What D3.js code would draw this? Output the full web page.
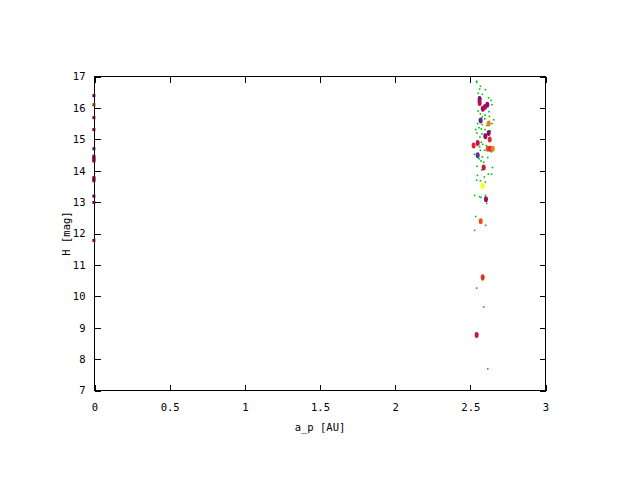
<!DOCTYPE html>
<html>
<head>
<meta charset="utf-8">
<script src="https://cdn.jsdelivr.net/npm/d3@7"></script>
<style>
  html, body { margin: 0; padding: 0; background: #fff; }
  svg { display: block; }
  text { font-family: "DejaVu Sans Mono", "Liberation Mono", monospace; font-size: 10.5px; fill: #000; }
</style>
</head>
<body>
<svg id="chart" width="640" height="480"></svg>
<script>
// ---- data ----
const xTicks = [0, 0.5, 1, 1.5, 2, 2.5, 3];
const yTicks = [7, 8, 9, 10, 11, 12, 13, 14, 15, 16, 17];
const xLabel = "a_p [AU]";
const yLabel = "H [mag]";

// background population (small green dots)
const bgA = [2.542,2.542,2.567,2.562,2.600,2.553,2.580,2.556,2.622,2.638,2.553,2.558,2.644,2.580,2.551,2.624,2.567,2.598,2.627,2.580,2.560,2.596,2.656,2.549,2.580,2.644,2.558,2.609,2.536,2.573,2.598,2.633,2.544,2.576,2.593,2.564,2.629,2.573,2.582,2.562,2.607,2.567,2.596,2.640,2.527,2.580,2.616,2.558,2.571,2.589,2.544,2.647,2.576,2.620,2.642,2.547,2.593,2.542,2.567,2.600,2.529,2.562,2.600,2.571,2.609,2.536,2.602,2.529,2.582,2.542,2.589,2.616];
const bgH = [16.85,16.81,16.69,16.60,16.58,16.47,16.43,16.34,16.32,16.24,16.22,16.13,16.10,15.94,15.90,15.88,15.81,15.77,15.73,15.71,15.62,15.65,15.62,15.50,15.47,15.50,15.37,15.44,15.31,15.33,15.31,15.26,15.20,15.18,15.16,15.07,15.02,14.91,14.84,14.76,14.80,14.65,14.65,14.60,14.52,14.44,14.42,14.38,14.31,14.27,14.14,14.10,14.02,13.89,13.89,13.85,13.80,13.70,13.68,13.64,13.21,13.17,13.21,13.15,12.96,12.54,12.26,12.10,10.52,10.26,9.66,7.69];

// highlighted objects (palette-coloured markers), z = colour value
const objA = [2.562,2.562,2.583,2.597,2.613,2.569,2.622,2.622,2.600,2.629,2.549,2.522,2.616,2.631,2.649,2.549,2.589,2.582,2.604,2.569,2.582,2.542];
const objH = [16.28,16.16,15.97,16.03,16.10,15.60,15.50,15.20,15.10,14.99,14.88,14.80,14.70,14.70,14.70,14.49,14.10,13.51,13.09,12.39,10.61,8.77];
const objZ = [0.20,0.40,0.32,0.38,0.22,0.10,0.80,0.20,0.28,0.60,0.42,0.58,0.70,0.60,0.80,0.05,0.48,1.00,0.30,0.72,0.62,0.45];

// objects at a_p ~ 0 (left edge)
const edgeA = [-0.004,-0.004,-0.004,-0.004,-0.004,-0.004,-0.004,-0.004,-0.004,-0.004,-0.004,-0.004,-0.004,-0.004,-0.004];
const edgeH = [16.39,16.10,15.69,15.31,14.70,14.46,14.41,14.36,14.31,13.78,13.73,13.68,13.19,12.99,11.78];
const edgeZ = [0.30,0.75,0.40,0.40,0.05,0.40,0.38,0.40,0.38,0.40,0.38,0.40,0.25,0.40,0.45];

// ---- chart ----
const svg = d3.select("#chart");
const x = d3.scaleLinear().domain([0, 3]).range([94.5, 545.5]);
const y = d3.scaleLinear().domain([7, 17]).range([390.5, 76.5]);

const color = d3.scaleSequential(
  d3.interpolateRgbBasis(["#5040a0", "#800080", "#c0104a", "#e02020", "#f07020", "#ffff00"])
).domain([0, 1]);

// axes (inward ticks, mirrored)
const tick = 6;
const gx = svg.append("g").attr("transform", `translate(0,${y(7)})`)
  .call(d3.axisBottom(x).tickValues(xTicks).tickSize(-tick).tickPadding(13).tickFormat(d3.format("")));
const gxTop = svg.append("g").attr("transform", `translate(0,${y(17)})`)
  .call(d3.axisTop(x).tickValues(xTicks).tickSize(-tick).tickFormat(""));
const gy = svg.append("g").attr("transform", `translate(${x(0)},0)`)
  .call(d3.axisLeft(y).tickValues(yTicks).tickSize(-tick).tickPadding(9).tickFormat(d3.format("")));
const gyR = svg.append("g").attr("transform", `translate(${x(3)},0)`)
  .call(d3.axisRight(y).tickValues(yTicks).tickSize(-tick).tickFormat(""));
[gx, gxTop, gy, gyR].forEach(g => {
  g.select(".domain").remove();
  g.attr("font-family", null).attr("font-size", null);
  g.selectAll("line").attr("stroke", "#000").attr("shape-rendering", "crispEdges");
  g.selectAll("text").attr("fill", "#000");
});
gx.selectAll("text").attr("dy", "0.71em");

// border
svg.append("rect")
  .attr("x", x(0)).attr("y", y(17))
  .attr("width", x(3) - x(0)).attr("height", y(7) - y(17))
  .attr("fill", "none").attr("stroke", "#000").attr("stroke-width", 1)
  .attr("shape-rendering", "crispEdges");

// axis titles
svg.append("text").attr("x", (x(0) + x(3)) / 2).attr("y", 431)
  .attr("text-anchor", "middle").text(xLabel);
svg.append("text").attr("transform", `translate(70,${(y(7) + y(17)) / 2}) rotate(-90)`)
  .attr("text-anchor", "middle").text(yLabel);

// background population
svg.append("g").selectAll("rect").data(d3.range(bgA.length)).join("rect")
  .attr("x", i => x(bgA[i]) - 0.8).attr("y", i => y(bgH[i]) - 0.8)
  .attr("width", 1.6).attr("height", 1.6)
  .attr("fill", "#00c000");

// edge objects
svg.append("g").selectAll("rect").data(d3.range(edgeA.length)).join("rect")
  .attr("x", i => x(edgeA[i]) - 1.5).attr("y", i => y(edgeH[i]) - 1.5)
  .attr("width", 3).attr("height", 3)
  .attr("fill", i => d3.color(color(edgeZ[i])).darker(1.6));

// highlighted objects
svg.append("g").selectAll("ellipse").data(d3.range(objA.length)).join("ellipse")
  .attr("cx", i => x(objA[i])).attr("cy", i => y(objH[i]))
  .attr("rx", 2).attr("ry", 3)
  .attr("fill", i => color(objZ[i]));
</script>
</body>
</html>
